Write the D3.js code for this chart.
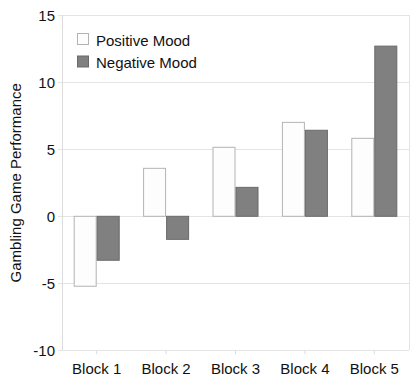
<!DOCTYPE html>
<html><head><meta charset="utf-8">
<script src="https://cdn.jsdelivr.net/npm/d3@7"></script>
<style>body{margin:0;background:#fff}svg{display:block}text{font-family:"Liberation Sans",Arial,sans-serif;fill:#111}</style>
</head><body>
<svg id="c" width="419" height="382"></svg>
<script>
const categories = ["Block 1","Block 2","Block 3","Block 4","Block 5"];
const seriesNames = ["Positive Mood","Negative Mood"];
const positiveMood = [-5.22, 3.58, 5.15, 7.01, 5.82];
const negativeMood = [-3.28, -1.72, 2.16, 6.42, 12.7];
const yTicks = [-10, -5, 0, 5, 10, 15];

const svg = d3.select("#c");
const m = {l:62, r:10, t:15.3, b:31.7};
const W = 419, H = 382;
const FS = "15px";
const x = d3.scaleBand().domain(categories).range([m.l, W-m.r]).paddingInner(0.337).paddingOuter(0.1685);
const x1 = d3.scaleBand().domain(seriesNames).range([0, x.bandwidth()]);
const y = d3.scaleLinear().domain([-10, 15]).range([H-m.b, m.t]);
const fills = {"Positive Mood":"#fdfdfd","Negative Mood":"#808080"};
const strokes = {"Positive Mood":"#b3b3b3","Negative Mood":"#6a6a6a"};

svg.append("g").selectAll("line").data(yTicks).join("line")
  .attr("x1", m.l-4).attr("x2", W-m.r).attr("y1", d=>y(d)).attr("y2", d=>y(d))
  .attr("stroke", "#e4e4e4").attr("stroke-width", 1).attr("shape-rendering","crispEdges");
svg.append("line").attr("x1", m.l).attr("x2", m.l).attr("y1", y(15)).attr("y2", y(-10))
  .attr("stroke","#dcdcdc").attr("shape-rendering","crispEdges");
svg.append("line").attr("x1", W-m.r).attr("x2", W-m.r).attr("y1", y(15)).attr("y2", y(-10))
  .attr("stroke","#e4e4e4").attr("shape-rendering","crispEdges");

const yAxis = d3.axisLeft(y).tickValues(yTicks).tickFormat(d=>String(d)).tickSize(0).tickPadding(7);
const gy = svg.append("g").attr("transform", `translate(${m.l},0)`).call(yAxis);
gy.select(".domain").remove();
gy.selectAll("text").style("font-size",FS).style("font-family","Liberation Sans, Arial, sans-serif").attr("fill","#111");

const xAxis = d3.axisBottom(x).tickSize(4).tickPadding(9);
const gx = svg.append("g").attr("transform", `translate(0,${y(-10)})`).call(xAxis);
gx.select(".domain").remove();
gx.selectAll("line").attr("stroke","#dcdcdc");
gx.selectAll("text").style("font-size",FS).style("font-family","Liberation Sans, Arial, sans-serif").attr("fill","#111");

const data = categories.map((c,i)=>({cat:c, vals:[{s:"Positive Mood", v:positiveMood[i]},{s:"Negative Mood", v:negativeMood[i]}]}));
svg.append("g").selectAll("g").data(data).join("g")
  .attr("transform", d=>`translate(${x(d.cat)},0)`)
  .selectAll("rect").data(d=>d.vals).join("rect")
  .attr("x", d=>x1(d.s)+0.5).attr("width", x1.bandwidth()-1)
  .attr("y", d=>y(Math.max(0,d.v))).attr("height", d=>Math.abs(y(d.v)-y(0)))
  .attr("fill", d=>fills[d.s]).attr("stroke", d=>strokes[d.s]).attr("stroke-width",1);

const lg = svg.append("g").attr("transform","translate(77,33)");
seriesNames.forEach((s,i)=>{
  lg.append("rect").attr("x",0.5).attr("y", i*22.5+0.5).attr("width",11).attr("height",11)
    .attr("fill", fills[s]).attr("stroke", strokes[s]);
  lg.append("text").attr("x",19).attr("y", i*22.5+12.5).style("font-size",FS).text(s);
});

svg.append("text").attr("transform", `translate(21,${(y(15)+y(-10))/2}) rotate(-90)`)
  .attr("text-anchor","middle").style("font-size",FS).text("Gambling Game Performance");
</script>
</body></html>
